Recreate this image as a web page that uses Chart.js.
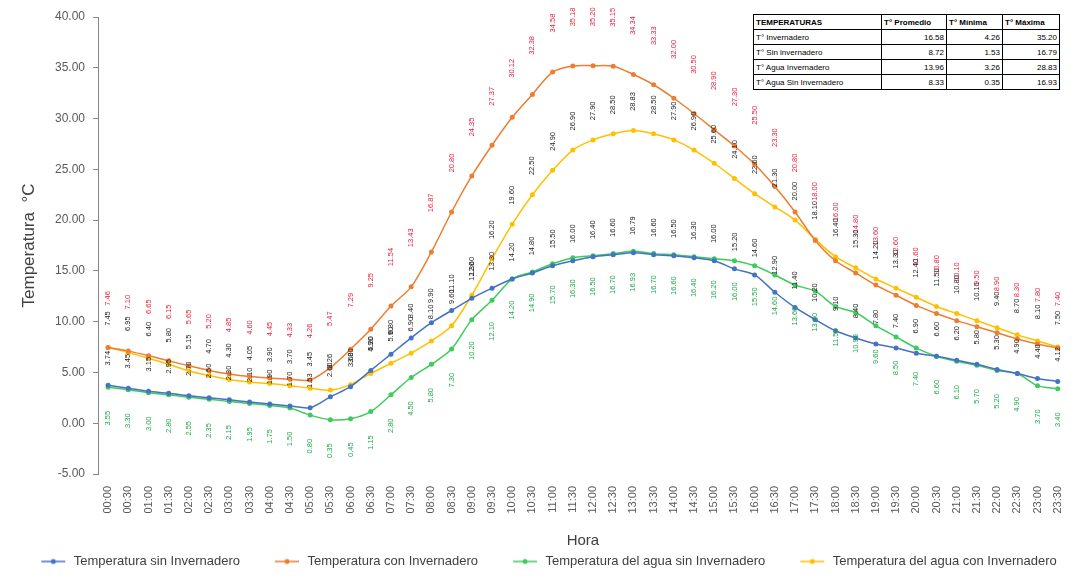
<!DOCTYPE html>
<html>
<head>
<meta charset="utf-8">
<script src="https://cdn.jsdelivr.net/npm/chart.js@4.4.1/dist/chart.umd.min.js"></script>
<style>
  html, body { margin: 0; padding: 0; background: #fff; }
  #wrap { position: relative; width: 1075px; height: 578px; }
  #tabla { position: absolute; left: 753px; top: 14px; border-collapse: collapse;
           font: 8px "Liberation Sans", Arial, sans-serif; color: #000; background: #fff; }
  #tabla td { border: 1px solid #000; padding: 0 2px; height: 14px; white-space: nowrap; }
  #tabla tr:first-child td { font-weight: bold; }
  #tabla td.num { text-align: right; }
</style>
</head>
<body>
<div id="wrap">
  <canvas id="grafico" width="1075" height="578"></canvas>
  <table id="tabla"></table>
</div>
<script>
const horas = ['00:00','00:30','01:00','01:30','02:00','02:30','03:00','03:30','04:00','04:30','05:00','05:30',
  '06:00','06:30','07:00','07:30','08:00','08:30','09:00','09:30','10:00','10:30','11:00','11:30',
  '12:00','12:30','13:00','13:30','14:00','14:30','15:00','15:30','16:00','16:30','17:00','17:30',
  '18:00','18:30','19:00','19:30','20:00','20:30','21:00','21:30','22:00','22:30','23:00','23:30'];

const tempSinInv = [3.74,3.45,3.15,2.95,2.70,2.50,2.30,2.10,1.90,1.70,1.53,2.60,3.60,5.20,6.80,8.40,9.90,11.10,12.30,13.30,14.20,14.80,15.50,16.00,
  16.40,16.60,16.79,16.60,16.50,16.30,16.00,15.20,14.60,12.90,11.40,10.20,9.10,8.40,7.80,7.40,6.90,6.60,6.20,5.80,5.30,4.90,4.40,4.12];
const tempConInv = [7.46,7.10,6.65,6.15,5.65,5.20,4.85,4.60,4.45,4.33,4.26,5.47,7.29,9.25,11.54,13.43,16.87,20.80,24.35,27.37,30.12,32.38,34.58,35.18,
  35.20,35.15,34.34,33.33,32.00,30.50,28.90,27.30,25.50,23.30,20.80,18.00,16.00,14.80,13.60,12.60,11.60,10.80,10.10,9.50,8.90,8.30,7.80,7.40];
const aguaSinInv = [3.55,3.30,3.00,2.80,2.55,2.35,2.15,1.95,1.75,1.50,0.80,0.35,0.45,1.15,2.80,4.50,5.80,7.30,10.20,12.10,14.20,14.90,15.70,16.30,
  16.50,16.70,16.93,16.70,16.60,16.40,16.20,16.00,15.50,14.60,13.60,13.00,11.50,10.90,9.60,8.50,7.40,6.60,6.10,5.70,5.20,4.90,3.70,3.40];
const aguaConInv = [7.45,6.95,6.40,5.80,5.15,4.70,4.30,4.05,3.90,3.70,3.45,3.26,3.80,4.90,5.90,6.90,8.10,9.60,12.60,16.20,19.60,22.50,24.90,26.90,
  27.90,28.50,28.83,28.50,27.90,26.90,25.60,24.10,22.60,21.30,20.00,18.10,16.40,15.30,14.20,13.30,12.40,11.50,10.80,10.10,9.40,8.70,8.10,7.50];

// tabla resumen
const cabecera = ['TEMPERATURAS', 'T° Promedio', 'T° Mínima', 'T° Máxima'];
const filas = ['T° Invernadero', 'T° Sin invernadero', 'T° Agua Invernadero', 'T° Agua Sin Invernadero'];
const promedios = [16.58, 8.72, 13.96, 8.33];
const minimas = [4.26, 1.53, 3.26, 0.35];
const maximas = [35.20, 16.79, 28.83, 16.93];

const tabla = document.getElementById('tabla');
let html = '<tr><td style="width:123px">' + cabecera[0] + '</td><td style="width:60px">' + cabecera[1] +
  '</td><td style="width:51px">' + cabecera[2] + '</td><td style="width:52px">' + cabecera[3] + '</td></tr>';
filas.forEach((f, i) => {
  html += '<tr><td>' + f + '</td><td class="num">' + promedios[i].toFixed(2) + '</td><td class="num">' +
    minimas[i].toFixed(2) + '</td><td class="num">' + maximas[i].toFixed(2) + '</td></tr>';
});
tabla.innerHTML = html;

const series = [
  { nombre: 'Temperatura sin Invernadero', datos: tempSinInv, color: '#4472C4', etiqueta: '#222222', desp: -27 },
  { nombre: 'Temperatura con Invernadero', datos: tempConInv, color: '#ED7D31', etiqueta: '#E8203A', desp: -49 },
  { nombre: 'Temperatura del agua sin Invernadero', datos: aguaSinInv, color: '#3DCB5C', etiqueta: '#1FA84A', desp: 31 },
  { nombre: 'Temperatura del agua con Invernadero', datos: aguaConInv, color: '#FFC000', etiqueta: '#222222', desp: -29 }
];

// simbolo de leyenda: linea con marcador, con hueco a la izquierda
function simbolo(color) {
  const c = document.createElement('canvas');
  c.width = 56; c.height = 10;
  const g = c.getContext('2d');
  g.strokeStyle = color; g.lineWidth = 1.5;
  g.beginPath(); g.moveTo(30, 5); g.lineTo(54, 5); g.stroke();
  g.fillStyle = color;
  g.beginPath(); g.arc(42, 5, 2.5, 0, Math.PI * 2); g.fill();
  return c;
}

// etiquetas de datos verticales
const etiquetas = {
  id: 'etiquetas',
  afterDatasetsDraw(chart) {
    const ctx = chart.ctx;
    chart.data.datasets.forEach((ds, k) => {
      const meta = chart.getDatasetMeta(k);
      ctx.save();
      ctx.font = '7.5px "Liberation Sans", Arial, sans-serif';
      ctx.fillStyle = series[k].etiqueta;
      ctx.textAlign = 'center';
      ctx.textBaseline = 'middle';
      meta.data.forEach((pt, i) => {
        ctx.save();
        ctx.translate(pt.x, pt.y + series[k].desp);
        ctx.rotate(-Math.PI / 2);
        ctx.fillText(ds.data[i].toFixed(2), 0, 0);
        ctx.restore();
      });
      ctx.restore();
    });
  }
};

const ctx = document.getElementById('grafico').getContext('2d');
new Chart(ctx, {
  type: 'line',
  data: {
    labels: horas,
    datasets: series.map(s => ({
      label: s.nombre,
      data: s.datos,
      borderColor: s.color,
      backgroundColor: s.color,
      borderWidth: 1.5,
      pointRadius: 2.5,
      pointBorderWidth: 0,
      pointBackgroundColor: s.color,
      tension: 0.3,
      fill: false
    }))
  },
  options: {
    responsive: false,
    animation: false,
    layout: { padding: { left: 0, right: 7, top: 17, bottom: 0 } },
    scales: {
      x: {
        offset: true,
        grid: { display: false },
        border: { display: false },
        ticks: { autoSkip: false, minRotation: 90, maxRotation: 90, color: '#595959',
                 font: { family: '"Liberation Sans", Arial', size: 11 }, padding: 4 },
        title: { display: true, text: 'Hora', color: '#404040',
                 font: { family: '"Liberation Sans", Arial', size: 15 }, padding: { top: 0, bottom: 0 } },
        afterFit(scale) { scale.height = 76; }
      },
      y: {
        min: -5,
        max: 40,
        ticks: { stepSize: 5, callback: v => v.toFixed(2), color: '#595959',
                 font: { family: '"Liberation Sans", Arial', size: 12 }, padding: 8 },
        grid: { drawOnChartArea: false, tickLength: 5, color: '#868686' },
        border: { display: true, color: '#868686' },
        title: { display: true, text: 'Temperatura  °C', color: '#404040',
                 font: { family: '"Liberation Sans", Arial', size: 17 }, padding: { top: 19, bottom: 0 } },
        afterFit(scale) { scale.width = 98; }
      }
    },
    plugins: {
      legend: {
        position: 'bottom',
        labels: {
          usePointStyle: true,
          pointStyleWidth: 56,
          padding: 5,
          color: '#404040',
          font: { family: '"Liberation Sans", Arial', size: 13 },
          generateLabels(chart) {
            return chart.data.datasets.map((ds, i) => ({
              text: ds.label,
              fillStyle: ds.borderColor,
              strokeStyle: ds.borderColor,
              pointStyle: simbolo(ds.borderColor),
              lineWidth: 0,
              hidden: false,
              datasetIndex: i,
              fontColor: '#404040'
            }));
          }
        }
      },
      tooltip: { enabled: false }
    }
  },
  plugins: [etiquetas]
});
</script>
</body>
</html>
